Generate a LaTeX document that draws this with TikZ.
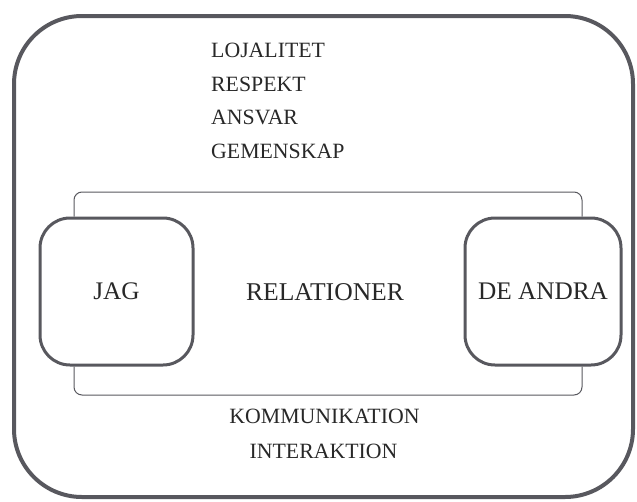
\documentclass[tikz,border=0pt]{standalone}
\usepackage{fontspec}
\setmainfont{Liberation Serif}
\definecolor{linegray}{RGB}{88,88,94}
\definecolor{txt}{RGB}{40,40,40}
\begin{document}
\begin{tikzpicture}[x=1pt,y=-1pt,
  frame/.style={draw=linegray, line width=4pt, rounded corners=68pt},
  person/.style={draw=linegray, line width=3pt, rounded corners=30pt,
    minimum width=153pt, minimum height=147pt, inner sep=0pt,
    font=\fontsize{25.3}{29}\selectfont, text=txt},
  listitem/.style={anchor=base west, inner sep=0pt,
    font=\fontsize{21.8}{25}\selectfont, text=txt},
  centeritem/.style={inner sep=0pt, font=\fontsize{21.8}{25}\selectfont, text=txt},
  bracket/.style={draw=linegray, line width=1pt, rounded corners=8pt}]
\useasboundingbox (0,0) rectangle (637,501);
\draw[frame] (14,16) rectangle (633,497);
% top list
\node[listitem] (loj) at (211,57) {LOJALITET};
\node[listitem] (res) at (211,91) {RESPEKT};
\node[listitem] (ans) at (211,124) {ANSVAR};
\node[listitem] (gem) at (211,158) {GEMENSKAP};
% persons
\node[person] (jag) at (116.5,291.5) {JAG};
\node[person, minimum width=156pt] (andra) at (543,291.5) {DE ANDRA};
\node[inner sep=0pt, font=\fontsize{25.6}{29}\selectfont, text=txt] (rel) at (325,292) {RELATIONER};
% brackets
\coordinate (bl) at (74,0);
\coordinate (br) at (582,0);
\coordinate (top) at (0,192);
\coordinate (bot) at (0,395);
\draw[bracket] (jag.north -| bl) -- (top -| bl) -- (top -| br) -- (andra.north -| br);
\draw[bracket] (jag.south -| bl) -- (bot -| bl) -- (bot -| br) -- (andra.south -| br);
% bottom list
\node[centeritem] (kom) at (324.5,416) {KOMMUNIKATION};
\node[centeritem] (int) at (323.5,451) {INTERAKTION};
\end{tikzpicture}
\end{document}
